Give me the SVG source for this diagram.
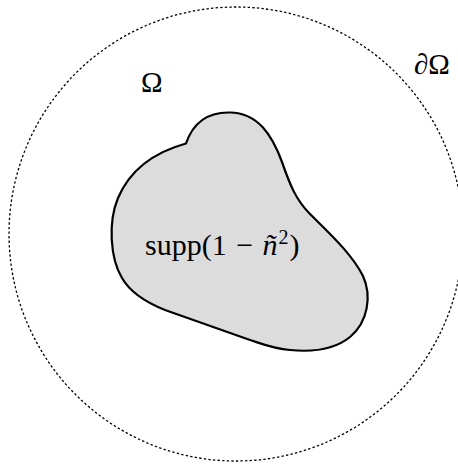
<svg xmlns="http://www.w3.org/2000/svg" width="458" height="467" viewBox="0 0 458 467">
<style>
.lbl{font-family:"Liberation Serif","DejaVu Serif",serif;fill:#000;}
</style>
<rect width="458" height="467" fill="#fff"/>
<g id="domain">
<circle cx="236" cy="234" r="227" fill="none" stroke="#000" stroke-width="1.3" stroke-dasharray="2.4 2.2"/>
</g>
<g id="support">
<path d="M 186,143.5 C 194,120 210,112 230,112.5 C 258,113 272,135 282,162 C 290,185 296,200 310,214 C 330,234 352,254 363,276 C 372,296 368,322 350,337 C 334,350 310,352 290,350 C 275,349 265,345 250,340 L 165,310 C 145,302 130,292 122,278 C 110,258 108,222 118,198 C 130,170 155,152 186,143.5 Z" fill="#dcdcdc" stroke="#000" stroke-width="2.2" stroke-linejoin="round"/>
<text class="lbl" x="145" y="255" font-size="30" word-spacing="2">supp(1 − <tspan font-style="italic">ñ</tspan><tspan font-size="20" dy="-11" dx="1">2</tspan><tspan dy="11" dx="1">)</tspan></text>
</g>
<g id="labels">
<text class="lbl" x="141" y="92" font-size="29">Ω</text>
<text class="lbl" x="414" y="74" font-size="29">∂Ω</text>
</g>
</svg>
